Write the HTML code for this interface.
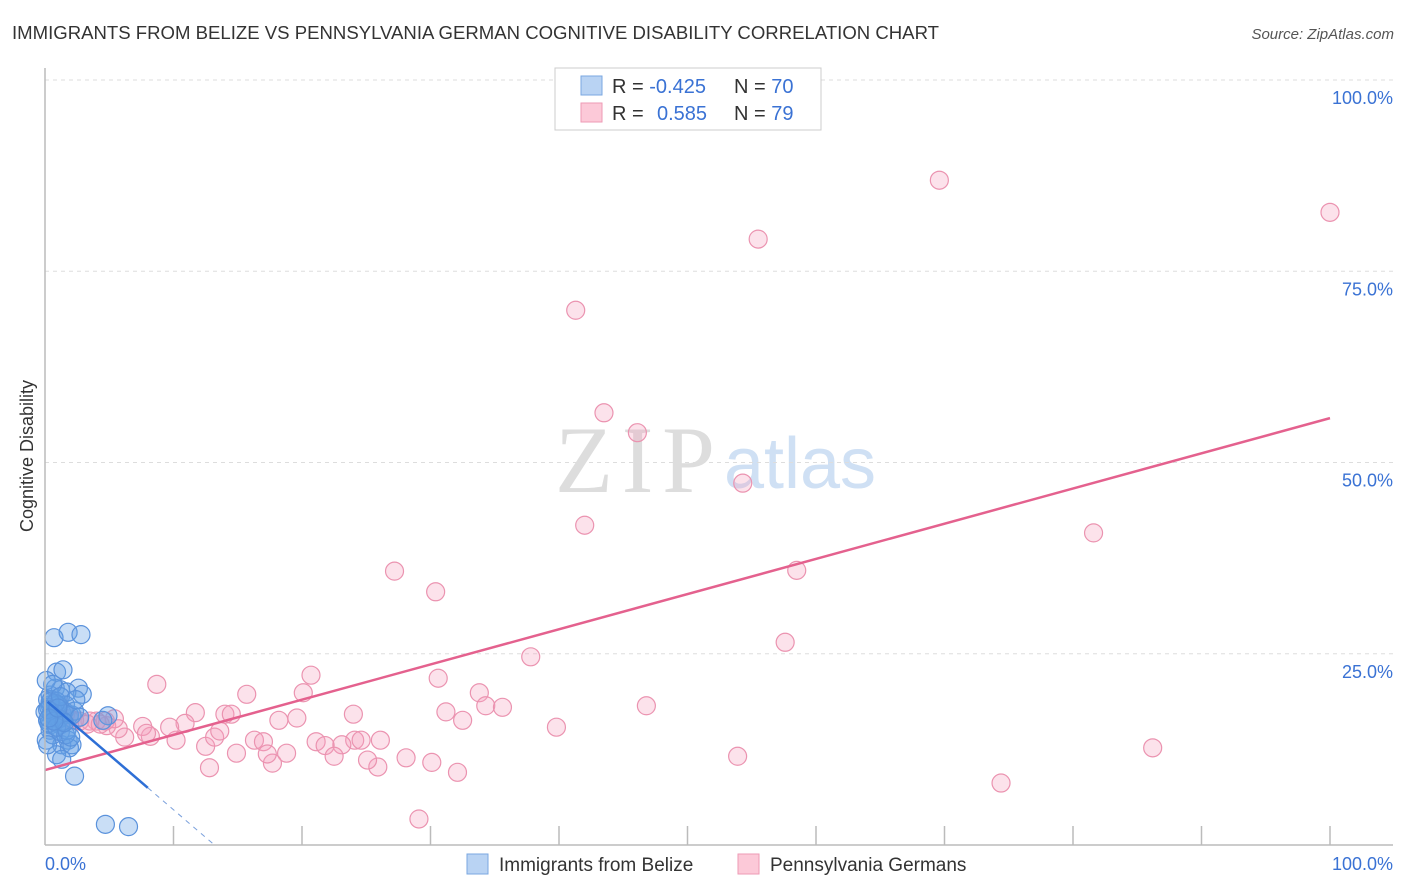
<!DOCTYPE html>
<html><head><meta charset="utf-8"><style>
body{margin:0;background:#fff;font-family:"Liberation Sans",sans-serif;}
svg{display:block}
</style></head><body>
<svg id="chart" width="1406" height="892">
<text x="12" y="39" font-size="18" fill="#333" textLength="927" lengthAdjust="spacingAndGlyphs">IMMIGRANTS FROM BELIZE VS PENNSYLVANIA GERMAN COGNITIVE DISABILITY CORRELATION CHART</text>
<text x="1394" y="39" font-size="15" fill="#555" font-style="italic" text-anchor="end">Source: ZipAtlas.com</text>
<text x="33" y="456" font-size="18" fill="#333" text-anchor="middle" transform="rotate(-90 33 456)">Cognitive Disability</text>
<text x="555" y="492" font-size="95" fill="#ddd" font-family="Liberation Serif,serif" textLength="160">ZIP</text>
<text x="800" y="488" font-size="72" fill="#cfe0f4" text-anchor="middle">atlas</text>
<g id="grid"></g><g id="pts"></g><g id="lines"></g>
<line x1="45" y1="68" x2="45" y2="845" stroke="#bbb" stroke-width="1.5"/>
<line x1="45" y1="845" x2="1393" y2="845" stroke="#bbb" stroke-width="1.5"/>
<text x="45" y="870" font-size="18" fill="#3a72d4">0.0%</text>
<text x="1393" y="870" font-size="18" fill="#3a72d4" text-anchor="end">100.0%</text>
<g>
<rect x="555" y="68" width="266" height="62" fill="#fff" stroke="#ccc"/>
<rect x="581" y="76" width="21" height="19" fill="#b9d3f3" stroke="#7aa7e0"/>
<rect x="581" y="103" width="21" height="19" fill="#fcc9d8" stroke="#ee9ab5"/>
<text x="612" y="93" font-size="20" fill="#333">R = <tspan fill="#3a72d4">-0.425</tspan></text>
<text x="734" y="93" font-size="20" fill="#333">N = <tspan fill="#3a72d4">70</tspan></text>
<text x="612" y="120" font-size="20" fill="#333">R = <tspan fill="#3a72d4" x="657">0.585</tspan></text>
<text x="734" y="120" font-size="20" fill="#333">N = <tspan fill="#3a72d4">79</tspan></text>
</g>
<g>
<rect x="467" y="854" width="21" height="20" fill="#b9d3f3" stroke="#7aa7e0"/>
<text x="499" y="871" font-size="19" fill="#333">Immigrants from Belize</text>
<rect x="738" y="854" width="21" height="20" fill="#fcc9d8" stroke="#ee9ab5"/>
<text x="770" y="871" font-size="19" fill="#333">Pennsylvania Germans</text>
</g>
</svg>
<script>
const yTicks=[25,50,75,100];
const xTicks=[10,20,30,40,50,60,70,80,90,100];
const pinkX=[69.6,100,55.5,41.3,43.5,46.1,54.3,42,81.6,27.2,58.5,30.4,57.6,37.8,20.7,8.7,30.6,15.7,20.1,33.8,34.3,35.6,46.8,31.2,11.7,14,14.5,24,32.5,18.2,19.6,39.8,86.2,53.9,74.4,29.1,32.1,30.1,28.1,25.9,25.1,24.1,26.1,24.6,23.1,21.1,21.8,22.5,18.8,16.3,17,17.7,17.3,14.9,12.8,12.5,13.2,13.6,10.2,10.9,9.7,8.2,7.6,7.9,6.2,5.7,4.8,4.7,5.4,4.0,3.5,2.7,1.9,1.2,0.8,1.6,2.3,3.3,4.3];
const pinkY=[86.9,82.7,79.2,69.9,56.5,53.9,47.3,41.8,40.8,35.8,35.9,33.1,26.5,24.6,22.2,21.0,21.8,19.7,19.9,19.9,18.2,18.0,18.2,17.4,17.3,17.1,17.1,17.1,16.3,16.3,16.6,15.4,12.7,11.6,8.1,3.4,9.5,10.8,11.4,10.2,11.1,13.7,13.7,13.7,13.1,13.5,13.0,11.6,12.0,13.7,13.5,10.7,11.9,12.0,10.1,12.9,14.1,14.9,13.7,15.9,15.4,14.2,15.5,14.6,14.1,15.2,15.6,16.2,16.5,16.2,16.2,16.2,16.5,16.7,17.0,17.1,16.3,15.8,15.8];
const blueX=[0.7,1.8,2.8,0.9,1.4,0.8,1.2,2.6,2.9,0.4,1.7,1.6,0.8,0.4,0,0.5,1,1.3,1.9,0.2,0.8,1.2,0.4,0.1,1.8,1.3,2.1,1.9,0.9,1.3,2.3,4.7,6.5,4.9,4.5,0.2,0.5,0.9,1,1.5,2.1,2.3,2.7,0.4,0.6,1.2,1.6,0.2,0.3,0.6,1,0.5,0.7,1.1,1.4,0.3,0.9,1.7,2,0.1,0.6,0.8,0.4,1.2,0.2,1.5,0.7,0.3,1.0,2.4];
const blueY=[27.1,27.8,27.5,22.6,22.9,20.5,20.3,20.5,19.7,19.6,20,18.3,17.6,18.3,17.4,17,16.6,17.3,17,16.3,16.1,15.7,15.0,13.7,13.7,13.1,13.1,12.7,11.8,11.2,9.0,2.7,2.4,16.9,16.3,19.0,19.0,18.8,18.3,17.5,17.0,17.5,16.7,15.7,14.4,14.8,14.4,13.1,18.0,17.8,17.9,17.2,16.8,16.5,16.2,15.9,15.4,15.0,14.1,21.5,21.0,18.5,18.7,19.4,17.7,16.0,16.2,16.6,17.9,19.0];
const pinkLine=[9.8,55.8];
const blueLine=[19.0,-1.44];
const sx=v=>45+v*12.85, sy=v=>845-v*7.65;
const NS='http://www.w3.org/2000/svg';
function mk(t,a,p){const e=document.createElementNS(NS,t);for(const k in a)e.setAttribute(k,a[k]);p.appendChild(e);return e;}
const grid=document.getElementById('grid');
yTicks.forEach(t=>{
 const l=mk('line',{x1:45,x2:1393,y1:sy(t),y2:sy(t),stroke:'#ddd','stroke-dasharray':'4,4'},grid);
 
 
 const tx=mk('text',{x:1393,y:sy(t)+24,'font-size':18,fill:'#3a72d4','text-anchor':'end'},grid);
 tx.textContent=t.toFixed(1)+'%';
 
 
});
xTicks.forEach(t=>{
 const l=mk('line',{x1:sx(t),x2:sx(t),y1:826,y2:845,stroke:'#bbb','stroke-width':1.5},grid);
 
 
});
const pts=document.getElementById('pts');
pinkX.forEach((x,i)=>{
 const c=mk('circle',{cx:sx(x),cy:sy(pinkY[i]),r:9,fill:'rgba(245,160,190,0.3)',stroke:'#eb93b0','stroke-width':1.2},pts);
 
 
});
blueX.forEach((x,i)=>{
 const c=mk('circle',{cx:sx(x),cy:sy(blueY[i]),r:9,fill:'rgba(100,160,230,0.35)',stroke:'#5a92dc','stroke-width':1.2},pts);
 
 
});
const lines=document.getElementById('lines');
const pl=mk('line',{x1:sx(0),y1:sy(pinkLine[0]),x2:sx(100),y2:sy(pinkLine[1]),stroke:'#e4618e','stroke-width':2.5},lines);


const bl=mk('line',{x1:sx(0.2),y1:sy(blueLine[0]+blueLine[1]*0.2),x2:sx(8),y2:sy(blueLine[0]+blueLine[1]*8),stroke:'#2e6fd6','stroke-width':2.5},lines);


const xe=-blueLine[0]/blueLine[1];
const bd=mk('line',{x1:sx(8),y1:sy(blueLine[0]+blueLine[1]*8),x2:sx(xe),y2:sy(0),stroke:'#7aa0dc','stroke-width':1,'stroke-dasharray':'5,5'},lines);


</script>
</body></html>
